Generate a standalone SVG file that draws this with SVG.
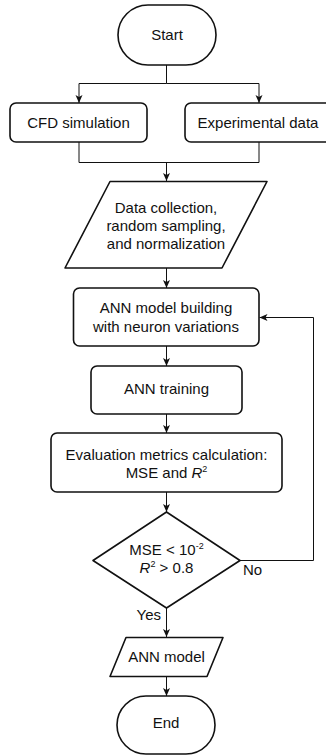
<svg xmlns="http://www.w3.org/2000/svg" width="326" height="756" viewBox="0 0 326 756">
<style>
.shape{fill:#ffffff;stroke:#111111;stroke-width:1.6;stroke-linejoin:round}
.conn{fill:none;stroke:#111111;stroke-width:1}
.t{font-family:"Liberation Sans",Arial,sans-serif;font-size:15px;fill:#111111;text-anchor:middle}
.lbl{font-family:"Liberation Sans",Arial,sans-serif;font-size:15px;fill:#111111}
.sup{font-size:9px}
</style>
<defs>
<marker id="arr" markerWidth="8" markerHeight="8" refX="8" refY="4" orient="auto" markerUnits="userSpaceOnUse">
<path d="M0,0.5 L8,4 L0,7.5 L2,4 Z" fill="#111111"/>
</marker>
</defs>
<rect width="326" height="756" fill="#ffffff"/>
<g id="connectors">
<path class="conn" d="M166.5,65 V83.5 H79 V103" marker-end="url(#arr)"/>
<path class="conn" d="M166.5,83.5 H259 V103" marker-end="url(#arr)"/>
<path class="conn" d="M79,142 V162.5 H259 V142"/>
<path class="conn" d="M166.5,162.5 V181" marker-end="url(#arr)"/>
<path class="conn" d="M166.5,268 V288" marker-end="url(#arr)"/>
<path class="conn" d="M166.5,346 V366" marker-end="url(#arr)"/>
<path class="conn" d="M166.5,414 V433" marker-end="url(#arr)"/>
<path class="conn" d="M166.5,492 V512" marker-end="url(#arr)"/>
<path class="conn" d="M240,560.5 H313.5 V317.5 H259.5" marker-end="url(#arr)"/>
<path class="conn" d="M166.5,608 V637" marker-end="url(#arr)"/>
<path class="conn" d="M166.5,677 V696" marker-end="url(#arr)"/>
</g>
<g id="start">
<rect class="shape" x="118" y="5" width="98" height="60" rx="30" ry="30"/>
<text class="t" x="167" y="40">Start</text>
</g>
<g id="cfd">
<rect class="shape" x="10" y="103" width="137" height="39" rx="6"/>
<text class="t" x="78.5" y="128">CFD simulation</text>
</g>
<g id="experimental">
<rect class="shape" x="185" y="103" width="148" height="39" rx="6"/>
<text class="t" x="258" y="128">Experimental data</text>
</g>
<g id="data">
<path class="shape" d="M110,181.5 H267 L222,268 H65 Z"/>
<text class="t" x="166" y="213">Data collection,</text>
<text class="t" x="166" y="231">random sampling,</text>
<text class="t" x="166" y="249">and normalization</text>
</g>
<g id="ann-build">
<rect class="shape" x="73.5" y="288" width="185.5" height="58" rx="6"/>
<text class="t" x="166" y="313">ANN model building</text>
<text class="t" x="166" y="332">with neuron variations</text>
</g>
<g id="ann-train">
<rect class="shape" x="91" y="366" width="151" height="48" rx="6"/>
<text class="t" x="166.5" y="394">ANN training</text>
</g>
<g id="evaluation">
<rect class="shape" x="51" y="433" width="231" height="59" rx="6"/>
<text class="t" x="166.5" y="460">Evaluation metrics calculation:</text>
<text class="t" x="166.5" y="478">MSE and <tspan font-style="italic">R</tspan><tspan class="sup" dy="-6">2</tspan></text>
</g>
<g id="decision">
<path class="shape" d="M166.5,512 L240,560.5 L166.5,608 L93,560.5 Z"/>
<text class="t" x="166.5" y="555">MSE &lt; 10<tspan class="sup" dy="-6">-2</tspan></text>
<text class="t" x="166.5" y="573"><tspan font-style="italic">R</tspan><tspan class="sup" dy="-6">2</tspan><tspan dy="6"> &gt; 0.8</tspan></text>
<text class="lbl" x="243" y="575">No</text>
<text class="lbl" x="161" y="620" text-anchor="end">Yes</text>
</g>
<g id="ann-model">
<path class="shape" d="M126,637.5 H223 L207,676.5 H110 Z"/>
<text class="t" x="166.5" y="662">ANN model</text>
</g>
<g id="end">
<rect class="shape" x="117" y="696" width="98" height="58" rx="29" ry="29"/>
<text class="t" x="166" y="728">End</text>
</g>
</svg>
